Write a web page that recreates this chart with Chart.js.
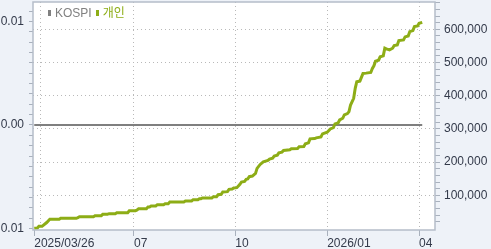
<!DOCTYPE html>
<html>
<head>
<meta charset="utf-8">
<script src="https://cdn.jsdelivr.net/npm/chart.js@4.4.1/dist/chart.umd.min.js"></script>
<style>
  html, body { margin: 0; padding: 0; background: #eef2f8; }
  #wrap { position: relative; width: 491px; height: 249px; }
  #legend {
    position: absolute; left: 48px; top: 7px;
    font: 12px "Liberation Sans", "Noto Sans CJK KR", sans-serif;
    line-height: 12px; white-space: nowrap;
  }
  #legend span.mk { display: inline-block; width: 3px; height: 6px; margin-right: 4px; vertical-align: 1px; }
  #legend span.item { margin-right: 4px; }
</style>
</head>
<body>
<div id="wrap">
  <canvas id="chart" width="491" height="249"></canvas>
  <div id="legend">
    <span class="item" style="color:#808080"><span class="mk" style="background:#808080"></span>KOSPI</span><span class="item" style="color:#8dad16"><span class="mk" style="background:#8dad16"></span>개인</span>
  </div>
</div>
<script>
// trading-day index since 2025/03/26 and cumulative net buying (right axis)
const days = [0, 2, 3, 5, 8, 10, 16, 17, 27, 28, 29, 38, 39, 43, 44, 47, 48, 52, 53, 60,
  61, 65, 66, 67, 72, 73, 74, 75, 78, 79, 83, 84, 86, 87, 96, 97, 101, 102, 105, 106,
  107, 108, 114, 115, 117, 118, 120, 121, 124, 125, 127, 128, 130, 131, 132, 133, 135, 136, 137, 138,
  140, 142, 143, 145, 147, 150, 151, 153, 154, 156, 157, 159, 160, 164, 165, 169, 170, 173, 174, 176,
  177, 180, 181, 184, 185, 188, 190, 192, 193, 195, 196, 198, 199, 201, 202, 203, 205, 206, 207, 209,
  211, 213, 216, 217, 218, 219, 221, 222, 224, 225, 226, 228, 230, 231, 233, 234, 237, 238, 240, 241,
  243, 244, 246, 247, 249]
const netBuy = [600, 1500, 6600, 6600, 18000, 27700, 27700, 30700, 30700, 32500, 35500, 35500, 38500, 38500, 42800, 42800, 44600, 44600, 47600, 47600,
  53600, 53600, 55700, 59600, 59600, 64800, 64800, 67800, 67800, 71700, 71700, 74700, 74700, 79800, 79800, 82800, 82800, 86700, 86700, 89800,
  89800, 91900, 91900, 95800, 95800, 101800, 103000, 110000, 111000, 118000, 119000, 122000, 123000, 128000, 133000, 140000, 142000, 148000, 149000, 156000,
  158000, 166000, 181000, 193000, 201000, 205000, 209000, 212000, 218000, 221000, 228000, 230000, 235000, 237000, 240000, 241000, 246000, 247000, 255000, 258000,
  270000, 271000, 273000, 276000, 285000, 290000, 300000, 304000, 315000, 318000, 327000, 332000, 342000, 346000, 352000, 372000, 392000, 422000, 442000, 444000,
  467000, 468000, 470000, 482000, 490000, 504000, 507000, 517000, 520000, 543000, 541000, 538000, 543000, 551000, 553000, 566000, 568000, 577000, 580000, 593000,
  596000, 608000, 610000, 618000, 621000]

// KOSPI stays flat on the left axis
const kospiDays = [0, 249]
const kospi = [0, 0]

const tickDays = [0, 4, 64, 129, 188, 247]
const tickLabels = ["2025/03/26", "", "07", "10", "2026/01", "04"]

const tickFont = { family: "'Liberation Sans', sans-serif", size: 12 }
const tickText = "#333a4a"
const tickLine = "#a9b1bd"
const dotGrid = "#b9b9b9"

const framePlugin = {
  id: "frame",
  beforeDraw(chart) {
    const { ctx, chartArea: a } = chart
    ctx.save()
    ctx.fillStyle = "#ffffff"
    ctx.fillRect(a.left, a.top, a.right - a.left, a.bottom - a.top)
    ctx.restore()
  },
  afterDraw(chart) {
    const { ctx, chartArea: a } = chart
    ctx.save()
    ctx.strokeStyle = "#b5bdc9"
    ctx.lineWidth = 1.5
    ctx.strokeRect(a.left, a.top, a.right - a.left, a.bottom - a.top)
    ctx.restore()
  },
}

// no extra room for overflowing tick labels
const noPad = (s) => {
  s.paddingTop = 0
  s.paddingBottom = 0
  s.paddingLeft = 0
  s.paddingRight = 0
}

new Chart(document.getElementById("chart"), {
  type: "line",
  data: {
    datasets: [
      {
        label: "개인",
        data: days.map((d, i) => ({ x: d, y: netBuy[i] })),
        yAxisID: "y1",
        borderColor: "#8dad16",
        borderWidth: 3,
        pointRadius: 0,
        tension: 0,
      },
      {
        label: "KOSPI",
        data: kospiDays.map((d, i) => ({ x: d, y: kospi[i] })),
        yAxisID: "y",
        borderColor: "#7f7f7f",
        borderWidth: 2,
        pointRadius: 0,
      },
    ],
  },
  options: {
    responsive: false,
    animation: false,
    devicePixelRatio: 1,
    layout: { padding: { top: 2, left: 0, right: 0, bottom: 0 } },
    plugins: { legend: { display: false }, tooltip: { enabled: false } },
    scales: {
      x: {
        type: "linear",
        min: -0.8,
        max: 257.2,
        afterBuildTicks: (s) => { s.ticks = tickDays.map((v) => ({ value: v })) },
        afterFit: (s) => { s.height = 19; noPad(s) },
        ticks: {
          autoSkip: false,
          maxRotation: 0,
          align: "start",
          padding: 0,
          font: tickFont,
          color: tickText,
          callback: (v, i) => tickLabels[i],
        },
        grid: {
          color: (c) => (c.index === 0 ? "transparent" : dotGrid),
          tickColor: (c) => (c.index === 1 ? "transparent" : tickLine),
          tickLength: 6,
          tickBorderDash: [],
          lineWidth: 1,
        },
        border: { display: false, dash: [1, 3] },
      },
      y: {
        position: "left",
        min: -0.010145,
        max: 0.011884,
        afterBuildTicks: (s) => {
          const t = []
          for (let i = -10; i <= 11; i++) t.push({ value: i / 1000 })
          s.ticks = t
        },
        afterFit: (s) => { s.width = 33; noPad(s) },
        ticks: {
          autoSkip: false,
          padding: 5,
          font: tickFont,
          color: tickText,
          callback: (v) => (Math.round(v * 1000) % 10 === 0 ? Math.abs(v).toFixed(2) : ""),
        },
        grid: { drawOnChartArea: false, tickLength: 4, tickColor: tickLine },
        border: { display: false },
      },
      y1: {
        position: "right",
        min: -4500,
        max: 682200,
        afterBuildTicks: (s) => {
          const t = []
          for (let v = 20000; v <= 680000; v += 20000) t.push({ value: v })
          s.ticks = t
        },
        afterFit: (s) => { s.width = 56; noPad(s) },
        ticks: {
          autoSkip: false,
          padding: 4,
          font: tickFont,
          color: tickText,
          callback: (v) => (v % 100000 === 0 ? v.toLocaleString("en-US") : ""),
        },
        grid: {
          color: (c) => (c.tick && c.tick.value % 100000 === 0 ? dotGrid : "transparent"),
          tickColor: tickLine,
          tickLength: 5,
          tickBorderDash: [],
        },
        border: { display: false, dash: [1, 3] },
      },
    },
  },
  plugins: [framePlugin],
})
</script>
</body>
</html>
